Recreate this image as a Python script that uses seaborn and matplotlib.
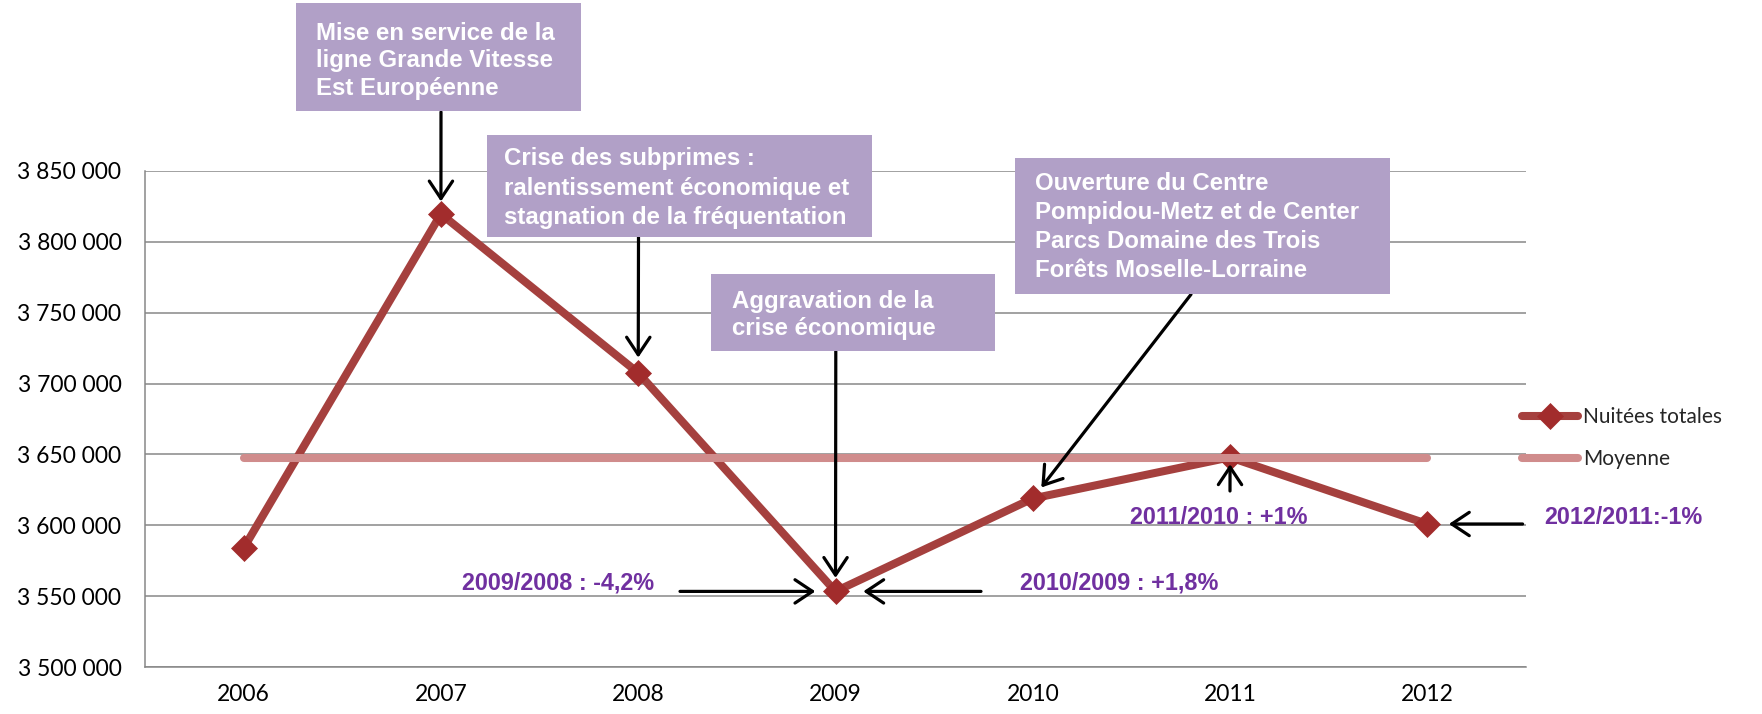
import numpy as np
import pandas as pd
import matplotlib
matplotlib.use("Agg")
import matplotlib.pyplot as plt
import matplotlib.ticker as mticker
from matplotlib.patches import Rectangle
import seaborn as sns

# ---------------- data ----------------
years = ["2006", "2007", "2008", "2009", "2010", "2011", "2012"]
nuitees = [3584000, 3819500, 3707500, 3553500, 3619000, 3648000, 3601000]
series_label = "Nuitées totales"
mean_label = "Moyenne"
yticks = [3500000, 3550000, 3600000, 3650000, 3700000, 3750000, 3800000, 3850000]

event_texts = [
    ["Mise en service de la", "ligne Grande Vitesse", "Est Européenne"],
    ["Crise des subprimes :", "ralentissement économique et", "stagnation de la fréquentation"],
    ["Aggravation de la", "crise économique"],
    ["Ouverture du Centre", "Pompidou-Metz et de Center", "Parcs Domaine des Trois", "Forêts Moselle-Lorraine"],
]
event_years = ["2007", "2008", "2009", "2010"]
variation_texts = ["2009/2008 : -4,2%", "2010/2009 : +1,8%", "2011/2010 : +1%", "2012/2011:-1%"]
variation_years = ["2009", "2009", "2011", "2012"]

# ---------------- style ----------------
sns.set_style("white")
plt.rcParams["font.family"] = ["Lato", "DejaVu Sans"]
BOLD_FAMILY = ["Liberation Sans", "DejaVu Sans"]

W, H = 1762, 714
LINE_C = "#A5403E"
MARK_C = "#A22C2C"
MEAN_C = "#D08C8C"
GRID_C = "#878787"
BOX_C = "#B1A0C7"
PURPLE = "#7030A0"


def fx(px):
    return px / W


def fy(py):
    return 1 - py / H


fig = plt.figure(figsize=(W / 100, H / 100), dpi=100)
ax = fig.add_axes([fx(145), fy(667.3), fx(1526) - fx(145), fy(170.7) - fy(667.3)])

df = pd.DataFrame({"annee": years, "nuitees": nuitees})
df["moyenne"] = float(np.mean(nuitees))

sns.lineplot(data=df, x="annee", y="nuitees", ax=ax, sort=False, color=LINE_C,
             lw=5.8, marker="D", markersize=13, markerfacecolor=MARK_C,
             markeredgecolor=MARK_C, markeredgewidth=0.5, label=series_label, zorder=3)
sns.lineplot(data=df, x="annee", y="moyenne", ax=ax, sort=False, color=MEAN_C,
             lw=5.8, solid_capstyle="round", label=mean_label, zorder=4)

handles, labels = ax.get_legend_handles_labels()
if ax.get_legend() is not None:
    ax.get_legend().remove()

ax.set_xlim(-0.5, len(years) - 0.5)
ax.set_ylim(yticks[0], yticks[-1])
ax.set_yticks(yticks)
ax.yaxis.set_major_formatter(mticker.FuncFormatter(lambda v, p: f"{v:,.0f}".replace(",", " ")))
ax.set_xlabel("")
ax.set_ylabel("")

ax.yaxis.grid(True, color=GRID_C, lw=1.1)
ax.xaxis.grid(False)
ax.set_axisbelow(True)
for s in ["top", "right"]:
    ax.spines[s].set_visible(False)
for s in ["left", "bottom"]:
    ax.spines[s].set_color(GRID_C)
    ax.spines[s].set_linewidth(1.1)

ax.xaxis.set_minor_locator(mticker.FixedLocator(np.arange(-0.5, len(years), 1.0)))
ax.tick_params(axis="x", which="major", length=0, labelsize=16.5, pad=12, colors="black")
ax.tick_params(axis="x", which="minor", length=6, width=1.1, color=GRID_C)
ax.tick_params(axis="y", which="major", length=6, width=1.1, color=GRID_C,
               labelsize=16.5, pad=11, labelcolor="black")

# ---------------- legend ----------------
fig.legend(handles, labels, loc="center left", bbox_to_anchor=(fx(1522), fy(438)),
           frameon=False, borderpad=0, borderaxespad=0, handlelength=2.7,
           handletextpad=0.25, labelspacing=1.05, fontsize=15)

# ---------------- annotation boxes ----------------
boxes = [  # x0, y0, x1, y1 (pixels, top origin), text left, first line centre, line step
    (295.5, 3.4, 581, 111.2, 316, 33, 28.0),
    (486.6, 134.8, 872, 237, 504.5, 158.5, 29.5),
    (711, 274, 994.5, 350.6, 731.5, 301, 28.0),
    (1014.7, 158.4, 1390, 294.4, 1035, 183, 29.2),
]
for (x0, y0, x1, y1, tx, ty, step), lines in zip(boxes, event_texts):
    fig.add_artist(Rectangle((fx(x0), fy(y1)), fx(x1) - fx(x0), fy(y0) - fy(y1),
                             transform=fig.transFigure, facecolor=BOX_C, edgecolor="none",
                             zorder=5))
    for i, line in enumerate(lines):
        fig.text(fx(tx), fy(ty + i * step), line, color="white", fontsize=17.3,
                 family=BOLD_FAMILY, fontweight="bold", ha="left", va="center", zorder=6)

arrow_kw = dict(arrowstyle="->,head_length=0.6,head_width=0.4", color="black", lw=2.3,
                mutation_scale=21, shrinkA=0)

val = dict(zip(years, nuitees))
event_starts = [(441, 112), (638.5, 237), (835.8, 350.6), (1191, 294.4)]
event_shrink = [9, 11, 9.7, 10]
for yr, (sx, sy), sh in zip(event_years, event_starts, event_shrink):
    ax.annotate("", xy=(yr, val[yr]), xycoords="data",
                xytext=(fx(sx), fy(sy)), textcoords="figure fraction",
                arrowprops=dict(arrow_kw, shrinkB=sh), zorder=6)

# ---------------- variation labels ----------------
var_pos = [(558.5, 583.2), (1119, 583.2), (1219, 518), (1623.7, 518)]
var_starts = [(680, 591.4), (981, 591.4), (1230, 491), (1522.6, 524)]
var_shrink = [14.5, 20, 5, 15.5]
for txt, yr, (lx, ly), (sx, sy), sh in zip(variation_texts, variation_years, var_pos,
                                          var_starts, var_shrink):
    fig.text(fx(lx), fy(ly), txt, color=PURPLE, fontsize=16.8, family=BOLD_FAMILY,
             fontweight="bold", ha="center", va="center")
    ax.annotate("", xy=(yr, val[yr]), xycoords="data",
                xytext=(fx(sx), fy(sy)), textcoords="figure fraction",
                arrowprops=dict(arrow_kw, shrinkB=sh), zorder=6)

fig.savefig("out.png", dpi=100)
